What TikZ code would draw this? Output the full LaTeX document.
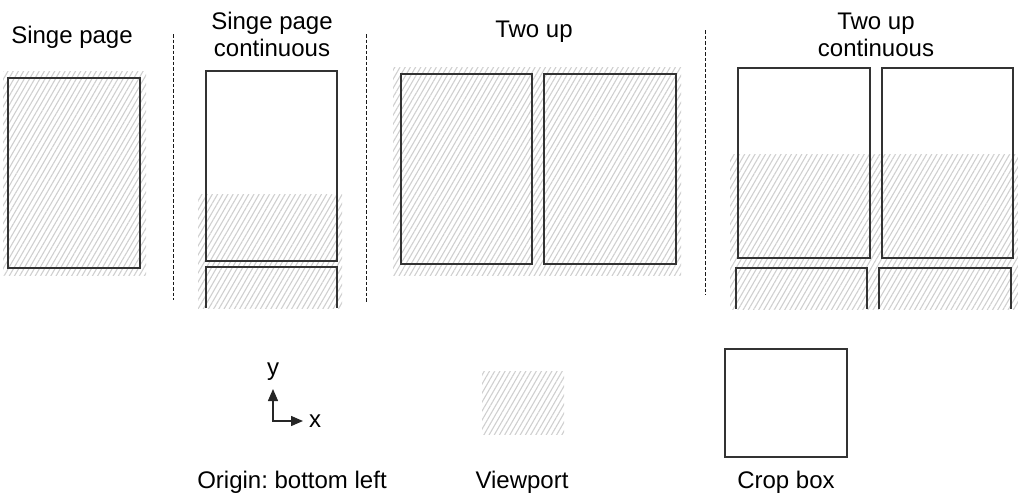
\documentclass[tikz,border=0pt]{standalone}
\usepackage{fontspec}
\setmainfont{Liberation Sans}
\usetikzlibrary{patterns.meta,arrows.meta}
\frenchspacing
\begin{document}
\begin{tikzpicture}[x=1pt,y=-1pt,
  page/.style={draw=black!80,line width=1.2pt},
  hatchfill/.style={pattern={Lines[angle=60,distance=4.5pt,line width=1.1pt]},pattern color=black!19},
  sep/.style={draw=black!90,line width=1.4pt,dash pattern=on 3.5pt off 2pt},
  lbl/.style={font=\fontsize{24}{28}\selectfont,inner sep=0pt,anchor=base},
  axis/.style={draw=black!85,line width=1.4pt,{Triangle[length=12pt,width=10pt]}-{Triangle[length=12pt,width=10pt]}}]
\path[use as bounding box] (0,0) rectangle (1018,499);
% panel 1
\fill[hatchfill] (3,71) rectangle (146,275);
\draw[page] (8,78) rectangle (140,268);
% panel 2
\fill[hatchfill] (198,194) rectangle (342,308);
\draw[page] (206,71) rectangle (337,261);
\draw[page] (206,308) -- (206,267) -- (337,267) -- (337,308);
% panel 3
\fill[hatchfill] (393,67) rectangle (681,275);
\draw[page] (401,74) rectangle (532,264);
\draw[page] (544,74) rectangle (676,264);
% panel 4
\fill[hatchfill] (730,154) rectangle (1018,309);
\draw[page] (738,68) rectangle (870,258);
\draw[page] (882,68) rectangle (1013,258);
\draw[page] (736,309) -- (736,268) -- (867,268) -- (867,309);
\draw[page] (879,309) -- (879,268) -- (1011,268) -- (1011,309);
% separators
\draw[sep] (173.5,34) -- (173.5,300);
\draw[sep] (366.5,34) -- (366.5,303);
\draw[sep] (705.5,30) -- (705.5,295);
% titles
\node[lbl] (t1) at (72,43) {Singe page};
\node[lbl] (t2a) at (272,29) {Singe page};
\node[lbl] (t2b) at (272,56) {continuous};
\node[lbl] (t3) at (534,37) {Two up};
\node[lbl] (t4a) at (876,29) {Two up};
\node[lbl] (t4b) at (876,56) {continuous};
% legend: origin
\coordinate (o) at (273,421);
\coordinate (yend) at (273,389);
\coordinate (xend) at (303,421);
\draw[axis] (yend) -- (o) -- (xend);
\node[lbl] (ylab) at (273,375) {y};
\node[lbl,anchor=base west] (xlab) at (309,427) {x};
\node[lbl] (l1) at (292,488) {Origin: bottom left};
% legend: viewport
\fill[hatchfill] (482,371) rectangle (564,434);
\node[lbl] (l2) at (522,488) {Viewport};
% legend: crop box
\draw[page] (725,349) rectangle (847,457);
\node[lbl] (l3) at (786,488) {Crop box};
\end{tikzpicture}
\end{document}
